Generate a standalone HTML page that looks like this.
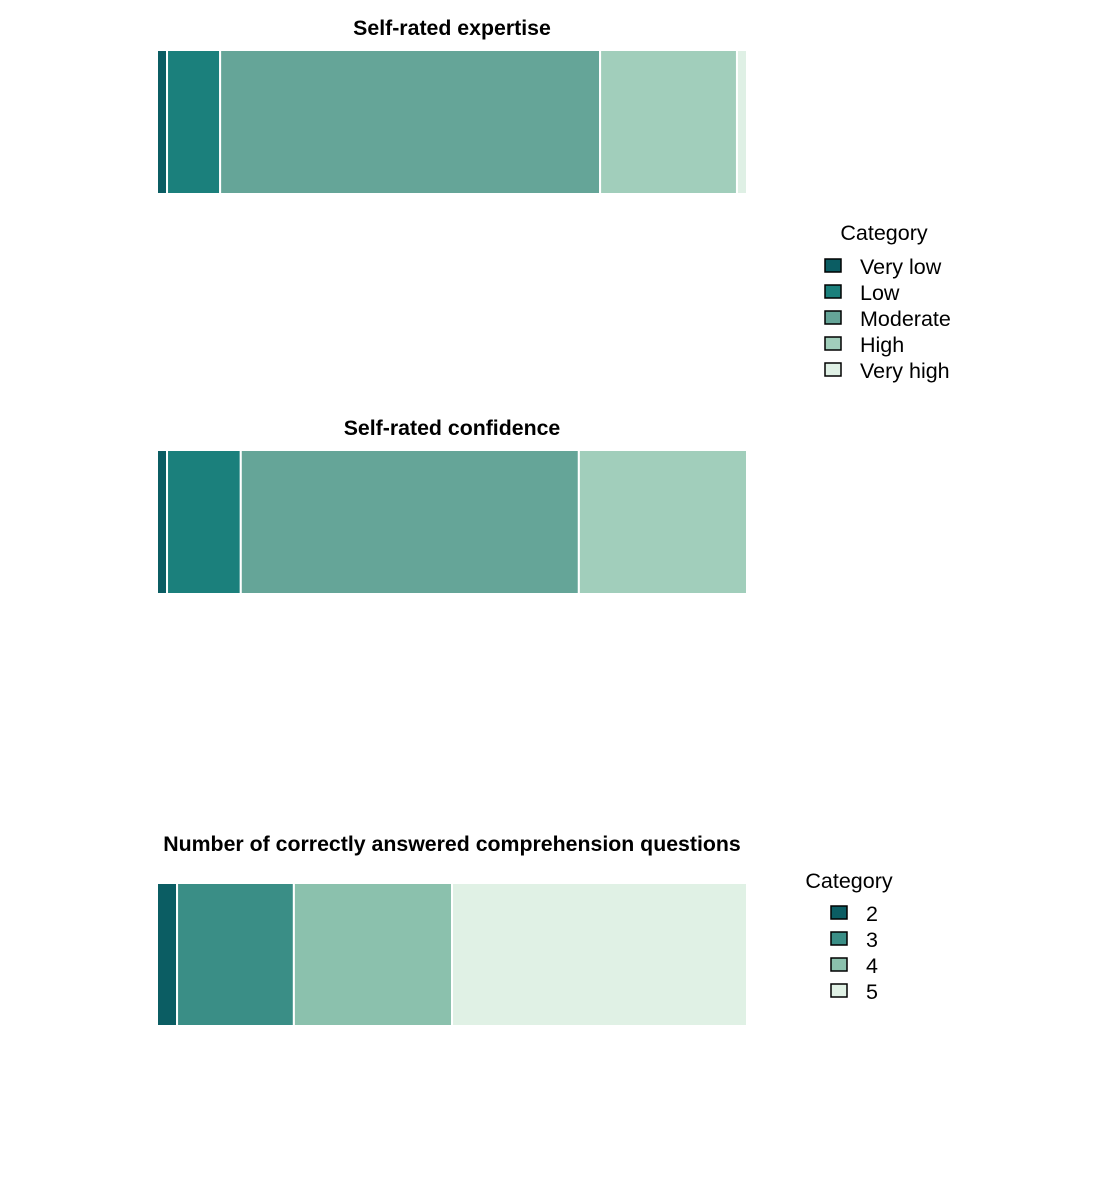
<!DOCTYPE html>
<html><head><meta charset="utf-8"><style>
body{margin:0;background:#fff;}
svg{display:block;font-family:"Liberation Sans",Arial,sans-serif;}
</style></head><body>
<svg id="c" width="1100" height="1200"></svg>
<script>
const panelTitles=["Self-rated expertise","Self-rated confidence","Number of correctly answered comprehension questions"];
const expertiseValues=[1.7,9.0,64.4,23.2,1.7];
const confidenceValues=[1.7,12.5,57.3,28.5,0];
const correctValues=[3.4,19.8,26.8,50.0];
const legend1Labels=["Very low","Low","Moderate","High","Very high"];
const legend2Labels=["2","3","4","5"];
const colors1=["#0b5d63","#1b807c","#65a598","#a1cebb","#dff0e5"];
const colors2=["#0b5d63","#3a8e86","#8bc1ad","#e0f1e5"];
const NS="http://www.w3.org/2000/svg";
const svg=document.getElementById('c');
function el(t,a,p){const e=document.createElementNS(NS,t);for(const k in a)e.setAttribute(k,a[k]);(p||svg).appendChild(e);return e;}
const x0=157,x1=747;
function xs(v){return x0+(x1-x0)*v/100;}
function panel(title,vals,cols,ty,y0,y1,name){
  const g=el('g',{});
  
  
  const t=el('text',{x:452,y:ty,'text-anchor':'middle','font-size':21.3,'font-weight':'bold',fill:'#000'},g);
  t.textContent=title;
  
  
  const tot=vals.reduce((a,b)=>a+b,0);
  let c=0;
  vals.forEach((v,i)=>{
    if(v<=0)return;
    const r=el('rect',{x:xs(c/tot*100),y:y0,width:xs((c+v)/tot*100)-xs(c/tot*100),height:y1-y0,fill:cols[i],stroke:'#fff','stroke-width':2},g);
    
    
    c+=v;
  });
}
panel(panelTitles[0],expertiseValues,colors1,35,50,194,'expertise-panel');
panel(panelTitles[1],confidenceValues,colors1,435,450,594,'confidence-panel');
panel(panelTitles[2],correctValues,colors2,851,883,1026,'correct-answers-panel');
function legend(labels,cols,tx,ty,kx,ky,lx,name){
  const g=el('g',{});
  
  
  const t=el('text',{x:tx,y:ty,'text-anchor':'middle','font-size':21.5,fill:'#000'},g);
  t.textContent='Category';
  
  
  labels.forEach((l,i)=>{
    const r=el('rect',{x:kx,y:ky+i*26,width:16,height:13,fill:cols[i],stroke:'#000','stroke-width':1.5},g);
    
    
    const s=el('text',{x:lx,y:ky+i*26+15,'font-size':21.5,fill:'#000'},g);
    s.textContent=l;
    
    
  });
}
legend(legend1Labels,colors1,884,240,825,259,860,'legend-rating');
legend(legend2Labels,colors2,849,888,831,906,866,'legend-correct');
</script>
</body></html>
